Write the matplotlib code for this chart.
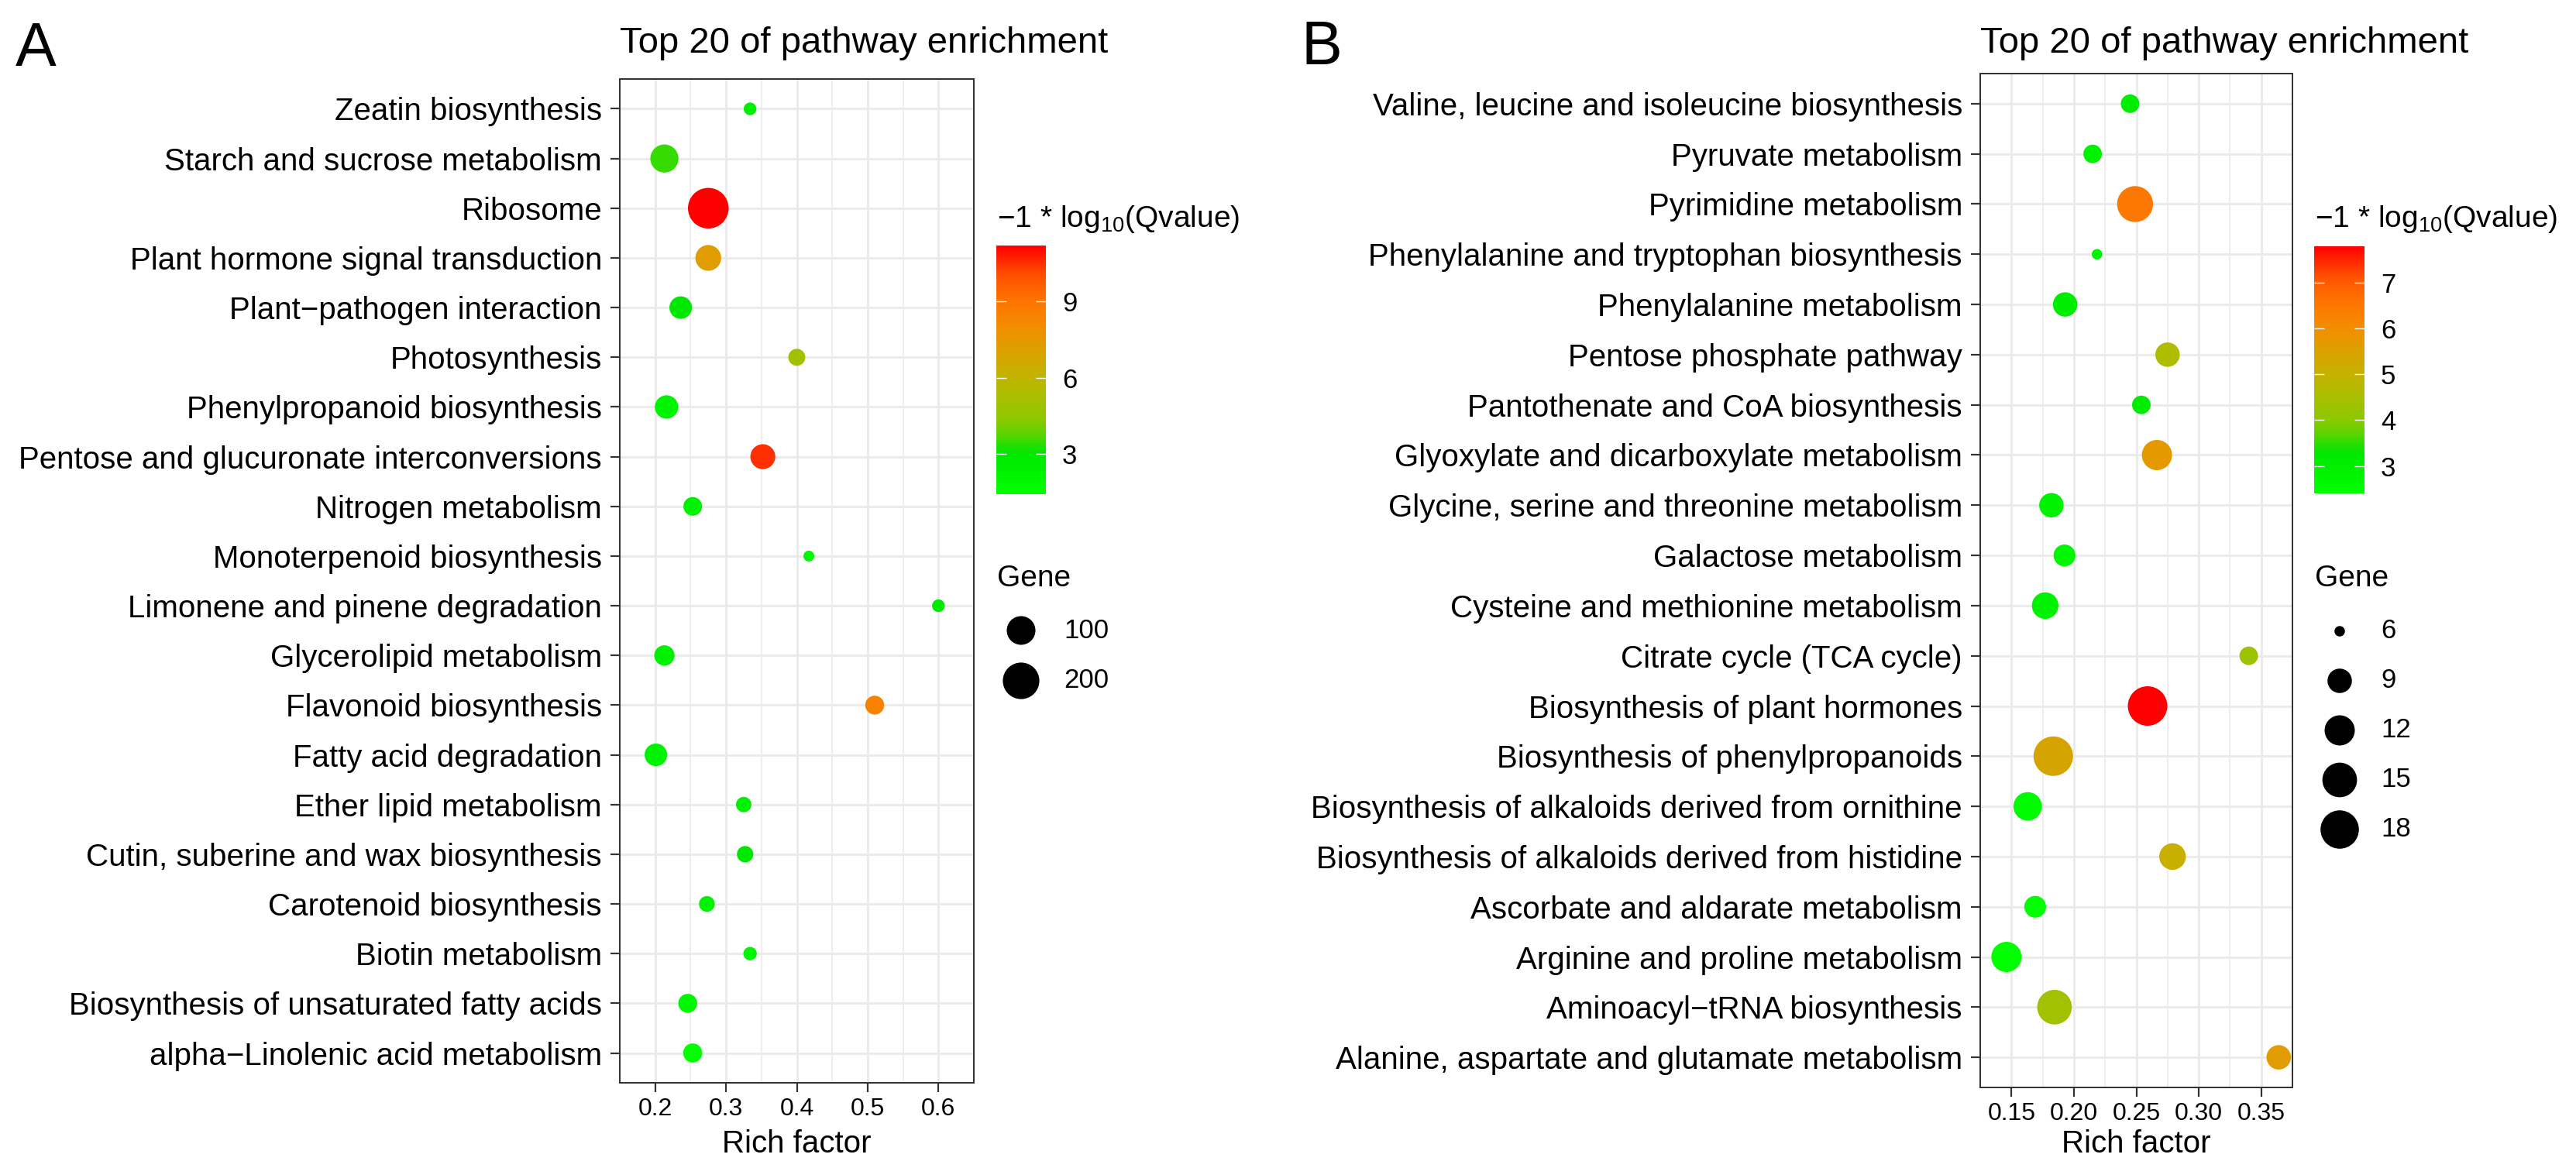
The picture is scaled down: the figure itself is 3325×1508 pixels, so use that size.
import numpy as np
import matplotlib
matplotlib.use('Agg')
import matplotlib.pyplot as plt
from matplotlib.colors import LinearSegmentedColormap, Normalize
from matplotlib.cm import ScalarMappable

plt.rcParams['font.family'] = ['Liberation Sans', 'DejaVu Sans']
plt.rcParams['mathtext.fontset'] = 'custom'
plt.rcParams['mathtext.rm'] = 'Liberation Sans'
plt.rcParams['mathtext.it'] = 'Liberation Sans:italic'
plt.rcParams['mathtext.bf'] = 'Liberation Sans:bold'

# ---------------- data ----------------
A_pathways = ["Zeatin biosynthesis", "Starch and sucrose metabolism", "Ribosome",
              "Plant hormone signal transduction", "Plant\u2212pathogen interaction",
              "Photosynthesis", "Phenylpropanoid biosynthesis",
              "Pentose and glucuronate interconversions", "Nitrogen metabolism",
              "Monoterpenoid biosynthesis", "Limonene and pinene degradation",
              "Glycerolipid metabolism", "Flavonoid biosynthesis", "Fatty acid degradation",
              "Ether lipid metabolism", "Cutin, suberine and wax biosynthesis",
              "Carotenoid biosynthesis", "Biotin metabolism",
              "Biosynthesis of unsaturated fatty acids", "alpha\u2212Linolenic acid metabolism"]
A_rich = [0.334, 0.213, 0.275, 0.275, 0.236, 0.400, 0.216, 0.352, 0.253, 0.417,
          0.600, 0.213, 0.510, 0.201, 0.325, 0.327, 0.273, 0.334, 0.246, 0.253]
A_gene = [8, 94, 267, 72, 47, 18, 53, 65, 25, 7, 8, 33, 26, 47, 13, 16, 14, 9, 26, 27]
A_q = [2.4, 3.5, 11.2, 7.3, 3.0, 5.0, 2.2, 10.5, 2.4, 2.0, 2.9, 2.4, 8.4, 2.3,
       2.4, 3.0, 2.3, 2.1, 2.0, 1.42]
A_xticks = [0.2, 0.3, 0.4, 0.5, 0.6]
A_xticklabels = ["0.2", "0.3", "0.4", "0.5", "0.6"]
A_cticks = [3, 6, 9]
A_size_breaks = [100, 200]

B_pathways = ["Valine, leucine and isoleucine biosynthesis", "Pyruvate metabolism",
              "Pyrimidine metabolism", "Phenylalanine and tryptophan biosynthesis",
              "Phenylalanine metabolism", "Pentose phosphate pathway",
              "Pantothenate and CoA biosynthesis", "Glyoxylate and dicarboxylate metabolism",
              "Glycine, serine and threonine metabolism", "Galactose metabolism",
              "Cysteine and methionine metabolism", "Citrate cycle (TCA cycle)",
              "Biosynthesis of plant hormones", "Biosynthesis of phenylpropanoids",
              "Biosynthesis of alkaloids derived from ornithine",
              "Biosynthesis of alkaloids derived from histidine",
              "Ascorbate and aldarate metabolism", "Arginine and proline metabolism",
              "Aminoacyl\u2212tRNA biosynthesis", "Alanine, aspartate and glutamate metabolism"]
B_rich = [0.245, 0.215, 0.249, 0.2185, 0.193, 0.275, 0.254, 0.2665, 0.182, 0.1925,
          0.177, 0.340, 0.259, 0.1835, 0.163, 0.279, 0.169, 0.146, 0.1845, 0.364]
B_gene = [7, 7, 16, 6, 9, 9, 7, 12, 9, 8, 10, 7, 19, 19, 11, 10, 8, 12, 15, 9]
B_q = [3.1, 2.9, 6.5, 2.9, 3.1, 4.6, 3.1, 5.7, 2.9, 2.8, 2.9, 4.3, 7.795, 5.4,
       2.6, 5.05, 2.42, 2.40, 4.4, 5.65]
B_xticks = [0.15, 0.20, 0.25, 0.30, 0.35]
B_xticklabels = ["0.15", "0.20", "0.25", "0.30", "0.35"]
B_cticks = [3, 4, 5, 6, 7]
B_size_breaks = [6, 9, 12, 15, 18]

TITLE = "Top 20 of pathway enrichment"
XLABEL = "Rich factor"
CTITLE = "\u22121 * log$_{10}$(Qvalue)"
STITLE = "Gene"

# ---------------- colour scale (green -> red, as rendered in the reference) -------------
CMAP = LinearSegmentedColormap.from_list('green_red', [
    (0.00, '#00FF00'), (0.16, '#00E800'), (0.19, '#1CE000'), (0.24, '#5AD400'),
    (0.30, '#8CC800'), (0.40, '#ACBE00'), (0.48, '#C4B200'), (0.58, '#DCA000'),
    (0.66, '#F09000'), (0.78, '#FF7400'), (0.88, '#FF5000'), (1.00, '#FF0000')], N=512)

# ---------------- figure ----------------
W, H, DPI = 3325, 1508, 100
PT = 72 / DPI
fig = plt.figure(figsize=(W / DPI, H / DPI), dpi=DPI)
fig.patch.set_facecolor('white')


def rect(l, t, r, b):
    return [l / W, 1 - b / H, (r - l) / W, (b - t) / H]


def size_px(g, gmin, gmax, dmin, dmax):
    g = np.asarray(g, float)
    return dmin + (dmax - dmin) * np.sqrt((g - gmin) / (gmax - gmin))


def panel(letter, letter_xy, box, pathways, rich, gene, q, xticks, xticklabels,
          cbox, cticks, breaks, key_x, lab_x, row0, row_step, dmin, dmax):
    l, t, r, b = box
    ax = fig.add_axes(rect(l, t, r, b))
    n = len(pathways)
    ypos = np.arange(n, 0, -1)
    norm = Normalize(vmin=min(q), vmax=max(q))
    gmin, gmax = min(gene), max(gene)
    d = size_px(gene, gmin, gmax, dmin, dmax)
    ax.scatter(rich, ypos, s=(d * PT) ** 2, c=CMAP(norm(np.asarray(q))),
               linewidths=0, zorder=3)
    lo, hi = min(rich), max(rich)
    rr = hi - lo
    ax.set_xlim(lo - 0.05 * rr, hi + 0.05 * rr)
    ax.set_ylim(0.4, n + 0.6)
    ax.set_xticks(xticks)
    ax.set_xticklabels(xticklabels, fontsize=23)
    step = xticks[1] - xticks[0]
    minors = [xticks[0] - step / 2] + [x + step / 2 for x in xticks]
    ax.set_xticks(minors, minor=True)
    ax.set_yticks(ypos)
    ax.set_yticklabels(pathways, fontsize=29)
    ax.set_axisbelow(True)
    ax.grid(True, which='major', color='#EBEBEB', linewidth=3 * PT)
    ax.grid(True, which='minor', axis='x', color='#EBEBEB', linewidth=1.6 * PT)
    ax.tick_params(which='major', length=12 * PT, width=2.2 * PT, color='#333333',
                   labelcolor='black')
    ax.tick_params(axis='y', pad=11 * PT)
    ax.tick_params(axis='x', pad=7 * PT)
    ax.tick_params(which='minor', length=0)
    for s in ax.spines.values():
        s.set_color('#333333')
        s.set_linewidth(2 * PT)
    # title, x label, letter
    fig.text(l / W, 1 - 68 / H, TITLE, fontsize=34, ha='left', va='baseline')
    fig.text((l + r) / 2 / W, 1 - 1488 / H, XLABEL, fontsize=29, ha='center',
             va='baseline')
    fig.text(letter_xy[0] / W, 1 - letter_xy[1] / H, letter, fontsize=57,
             ha='left', va='baseline')
    # colour bar
    cl, ct, cr, cb_ = cbox
    fig.text((cl + 1) / W, 1 - 293 / H, CTITLE, fontsize=28, ha='left', va='baseline')
    cax = fig.add_axes(rect(cl, ct, cr, cb_))
    cb = fig.colorbar(ScalarMappable(norm=norm, cmap=CMAP), cax=cax)
    cb.outline.set_visible(False)
    cb.set_ticks(cticks)
    cb.set_ticklabels([str(c) for c in cticks])
    cax.yaxis.set_ticks_position('both')
    cax.tick_params(direction='in', length=13 * PT, width=1.4 * PT, color='white',
                    labelcolor='black', labelsize=25, pad=21 * PT,
                    left=True, right=True, labelleft=False, labelright=True)
    # size legend
    fig.text((cl + 1) / W, 1 - 757 / H, STITLE, fontsize=28, ha='left', va='baseline')
    nb = len(breaks)
    top = row0 - row_step / 2
    bot = row0 + row_step * (nb - 0.5)
    lax = fig.add_axes(rect(cl, top, cl + 260, bot))
    lax.set_xlim(0, 260)
    lax.set_ylim(bot - top, 0)
    lax.axis('off')
    ky = row_step / 2 + row_step * np.arange(nb)
    kd = size_px(breaks, gmin, gmax, dmin, dmax)
    lax.scatter(np.full(nb, key_x - cl), ky, s=(kd * PT) ** 2, c='black',
                linewidths=0, clip_on=False)
    for yy, bk in zip(ky, breaks):
        lax.text(lab_x - cl, yy, str(bk), fontsize=25, ha='left', va='center')
    return ax


panel('A', (20, 85), (800, 102, 1257, 1398), A_pathways, A_rich, A_gene, A_q,
      A_xticks, A_xticklabels, (1286, 317, 1350, 638), A_cticks, A_size_breaks,
      1318, 1373, 814, 65, 14, 52.5)
panel('B', (1680, 83), (2556, 95, 2959, 1404), B_pathways, B_rich, B_gene, B_q,
      B_xticks, B_xticklabels, (2987, 318, 3052, 637), B_cticks, B_size_breaks,
      3020, 3073, 815, 64, 13.5, 51)

fig.savefig('out.png', dpi=DPI, facecolor='white')
